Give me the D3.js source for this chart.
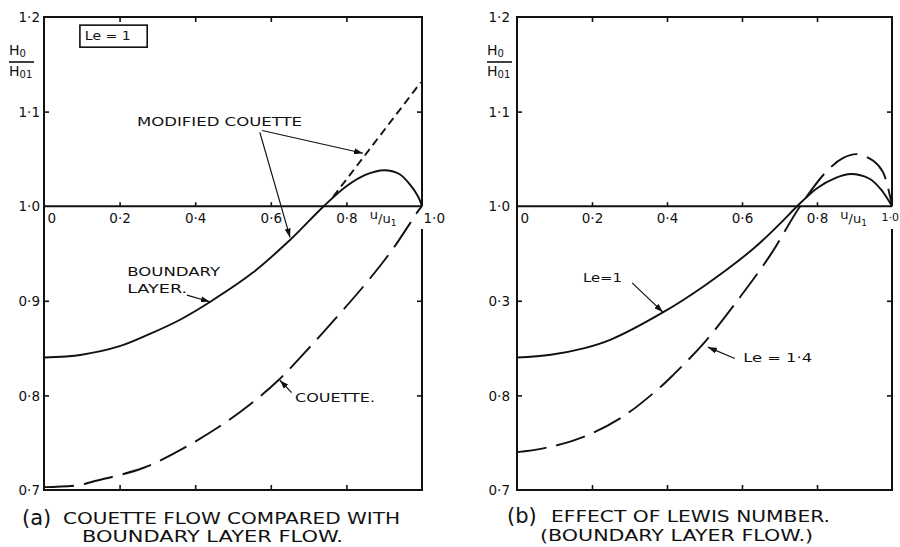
<!DOCTYPE html>
<html><head><meta charset="utf-8">
<script src="https://cdn.jsdelivr.net/npm/d3@7"></script>
<style>
body{margin:0;background:#fff}
svg text{font-family:"DejaVu Sans",sans-serif;fill:#111}
</style>
</head><body>
<svg id="c" width="900" height="547"></svg>
<script>
// ---- data ----
const uTicks = [0, 0.2, 0.4, 0.6, 0.8, 1.0];
const uTickLabels = ["0", "0·2", "0·4", "0·6", "0·8", "1·0"];
const hTicks = [0.7, 0.8, 0.9, 1.0, 1.1, 1.2];
const hTickLabelsA = ["0·7", "0·8", "0·9", "1·0", "1·1", "1·2"];
const hTickLabelsB = ["0·7", "0·8", "0·3", "1·0", "1·1", "1·2"];

// panel (a)
const boundaryLayerA = [[0,0.840],[0.1,0.843],[0.2,0.852],[0.28,0.865],[0.36,0.880],[0.44,0.899],[0.55,0.929],[0.65,0.964],[0.74,1.000],[0.8,1.021],[0.85,1.033],[0.9,1.038],[0.94,1.034],[0.97,1.022],[0.99,1.010],[1.0,1.0]];
const couetteA = [[0,0.703],[0.09,0.705],[0.13,0.709],[0.26,0.723],[0.35,0.740],[0.46,0.766],[0.55,0.792],[0.62,0.816],[0.68,0.841],[0.775,0.883],[0.855,0.920],[0.925,0.956],[0.99,0.995],[1.0,1.0]];
const modifiedCouetteA = [[0.765,1.010],[0.997,1.131]];
// panel (b)
const le1B = [[0,0.840],[0.09,0.843],[0.18,0.850],[0.25,0.859],[0.39,0.888],[0.5,0.916],[0.63,0.955],[0.7,0.981],[0.747,1.0],[0.8,1.019],[0.85,1.030],[0.89,1.034],[0.94,1.029],[0.97,1.018],[1.0,1.0]];
const le14B = [[0,0.740],[0.07,0.744],[0.17,0.755],[0.28,0.777],[0.38,0.808],[0.42,0.823],[0.5,0.856],[0.595,0.904],[0.675,0.948],[0.755,1.0],[0.826,1.037],[0.87,1.051],[0.907,1.055],[0.95,1.048],[0.976,1.036],[1.0,1.0]];

// annotations (data coordinates)
const labelsA = [
  {t:"MODIFIED COUETTE", u:0.246, h:1.0846, len:165},
  {t:"BOUNDARY", u:0.220, h:0.926, len:93},
  {t:"LAYER.", u:0.220, h:0.908, len:60},
  {t:"COUETTE.", u:0.664, h:0.793, len:80}
];
const arrowsA = [
  [[0.571,1.078],[0.651,0.967]],
  [[0.577,1.080],[0.844,1.056]],
  [[0.378,0.906],[0.439,0.899]],
  [[0.655,0.803],[0.624,0.816]]
];
const labelsB = [
  {t:"Le=1", u:0.176, h:0.920, len:39},
  {t:"Le = 1·4", u:0.603, h:0.835, len:69}
];
const arrowsB = [
  [[0.307,0.919],[0.389,0.888]],
  [[0.581,0.839],[0.509,0.851]]
];

// ---- drawing ----
const svg = d3.select("#c");
const defs = svg.append("defs");
defs.append("marker").attr("id","ah").attr("viewBox","0 0 9 6")
  .attr("refX",9).attr("refY",3).attr("markerWidth",9).attr("markerHeight",6)
  .attr("markerUnits","userSpaceOnUse").attr("orient","auto")
  .append("path").attr("d","M0,0L9,3L0,6Z").attr("fill","#111");

const Y0 = 490, Y1 = 17;

function panel(cfg){
  const x = d3.scaleLinear([0,1],[cfg.x0,cfg.x1]);
  const y = d3.scaleLinear([0.7,1.2],[Y0,Y1]);
  const g = svg.append("g");
  const inner = [0.2,0.4,0.6,0.8];

  // frame with gap under the 1.0 label on right border
  g.append("path")
    .attr("d",`M${x(1)},${y(1.0)}L${x(1)},${y(1.2)}L${x(0)},${y(1.2)}L${x(0)},${y(0.7)}L${x(1)},${y(0.7)}L${x(1)},${y(0.976)}`)
    .attr("fill","none").attr("stroke","#111").attr("stroke-width",2);
  // 1.0 line
  g.append("line").attr("x1",x(0)).attr("x2",x(1)).attr("y1",y(1)).attr("y2",y(1))
    .attr("stroke","#111").attr("stroke-width",2);

  function styleAxis(sel){
    sel.select(".domain").remove();
    sel.selectAll("line").attr("stroke","#111").attr("stroke-width",1.6);
    sel.attr("font-family",null).attr("font-size",null);
  }
  // frame ticks
  g.append("g").attr("transform",`translate(0,${y(1.2)})`)
    .call(d3.axisTop(x).tickValues(inner).tickSize(-5).tickFormat("")).call(styleAxis);
  g.append("g").attr("transform",`translate(0,${y(0.7)})`)
    .call(d3.axisBottom(x).tickValues(inner).tickSize(-5).tickFormat("")).call(styleAxis);
  g.append("g").attr("transform",`translate(${x(1)},0)`)
    .call(d3.axisRight(y).tickValues([0.8,0.9,1.1]).tickSize(-5).tickFormat("")).call(styleAxis);
  // y axis with labels
  const ya = g.append("g").attr("transform",`translate(${x(0)},0)`)
    .call(d3.axisLeft(y).tickValues(hTicks).tickSize(-5).tickPadding(cfg.yPad)
      .tickFormat((d,i)=>cfg.hLabels[i])).call(styleAxis);
  ya.selectAll("text").style("font-size","13.5px").attr("dy","0.35em");
  ya.selectAll(".tick").filter(d=>d===0.7||d===1.2||d===1.0).select("line").remove();
  // x axis on the 1.0 line
  const xa = g.append("g").attr("transform",`translate(0,${y(1)})`)
    .call(d3.axisBottom(x).tickValues(uTicks).tickSize(-4).tickPadding(7)
      .tickFormat((d,i)=>uTickLabels[i])).call(styleAxis);
  xa.selectAll("text").style("font-size","13.5px");
  xa.selectAll(".tick").filter(d=>d===0).select("text").attr("text-anchor","start").attr("x",3);
  xa.selectAll(".tick").filter(d=>d===1).select("text").attr("text-anchor","start")
    .attr("x",cfg.endOff).style("font-size",cfg.endSize);
  xa.selectAll(".tick").filter(d=>d===0||d===1).select("line").remove();
  // u/u1
  const ut = g.append("text").attr("x",x(cfg.uLab)).attr("y",y(1)+17).style("font-size","13px");
  ut.append("tspan").attr("dy",-4).text("u");
  ut.append("tspan").attr("dy",4).text("/");
  ut.append("tspan").text("u");
  ut.append("tspan").attr("dy",3).style("font-size","9px").text("1");

  // y-axis title H0/H01
  const tx = x(0) - cfg.titleOff;
  const n = g.append("text").attr("x",tx).attr("y",55).style("font-size","14px");
  n.append("tspan").text("H");
  n.append("tspan").attr("dy",2).style("font-size","10px").text("0");
  g.append("line").attr("x1",tx).attr("x2",tx+25).attr("y1",62).attr("y2",62)
    .attr("stroke","#111").attr("stroke-width",1.6);
  const dn = g.append("text").attr("x",tx).attr("y",76).style("font-size","14px");
  dn.append("tspan").text("H");
  dn.append("tspan").attr("dy",2).style("font-size","10px").text("01");

  const line = d3.line().x(d=>x(d[0])).y(d=>y(d[1])).curve(d3.curveCatmullRom.alpha(0.5));
  cfg.series.forEach(s=>{
    g.append("path").datum(s.data).attr("d",line).attr("fill","none")
      .attr("stroke","#111").attr("stroke-width",1.9)
      .attr("stroke-dasharray",s.dash||null);
  });
  cfg.labels.forEach(l=>{
    g.append("text").attr("x",x(l.u)).attr("y",y(l.h)).style("font-size","12.5px")
      .attr("textLength",l.len).attr("lengthAdjust","spacingAndGlyphs").text(l.t);
  });
  const aline = d3.line().x(d=>x(d[0])).y(d=>y(d[1]));
  cfg.arrows.forEach(a=>{
    g.append("path").attr("d",aline(a)).attr("fill","none").attr("stroke","#111")
      .attr("stroke-width",1.2).attr("marker-end","url(#ah)");
  });
  return {x,y,g};
}

const pa = panel({x0:44,x1:422,hLabels:hTickLabelsA,yPad:4,endOff:1,endSize:"13.5px",uLab:0.862,titleOff:35,
  series:[{data:boundaryLayerA},{data:couetteA,dash:"30,10"},{data:modifiedCouetteA,dash:"8,5"}],
  labels:labelsA, arrows:arrowsA});
// Le = 1 box
pa.g.append("rect").attr("x",pa.x(0.095)).attr("y",pa.y(1.1914))
  .attr("width",pa.x(0.273)-pa.x(0.095)).attr("height",pa.y(1.1681)-pa.y(1.1914))
  .attr("fill","none").attr("stroke","#111").attr("stroke-width",1.6);
pa.g.append("text").attr("x",pa.x(0.108)).attr("y",pa.y(1.1755)).style("font-size","12px")
  .attr("textLength",46).attr("lengthAdjust","spacingAndGlyphs").text("Le = 1");

const pb = panel({x0:517,x1:892,hLabels:hTickLabelsB,yPad:7,endOff:-11,endSize:"11px",uLab:0.862,titleOff:30,
  series:[{data:le1B},{data:le14B,dash:"30,10"}],
  labels:labelsB, arrows:arrowsB});

// captions
function caption(x, yb, letter, rest, restX, restLen){
  svg.append("text").attr("x",x).attr("y",yb+1).style("font-size","21px").text(letter);
  svg.append("text").attr("x",restX).attr("y",yb).style("font-size","16px")
    .attr("textLength",restLen).attr("lengthAdjust","spacingAndGlyphs").text(rest);
}
caption(22,524,"(a)","COUETTE FLOW COMPARED WITH",63,337);
svg.append("text").attr("x",82).attr("y",542).style("font-size","15px")
  .attr("textLength",261).attr("lengthAdjust","spacingAndGlyphs").text("BOUNDARY LAYER FLOW.");
caption(507,522,"(b)","EFFECT OF LEWIS NUMBER.",551,279);
svg.append("text").attr("x",540).attr("y",541).style("font-size","15px")
  .attr("textLength",273).attr("lengthAdjust","spacingAndGlyphs").text("(BOUNDARY LAYER FLOW.)");
</script>
</body></html>
